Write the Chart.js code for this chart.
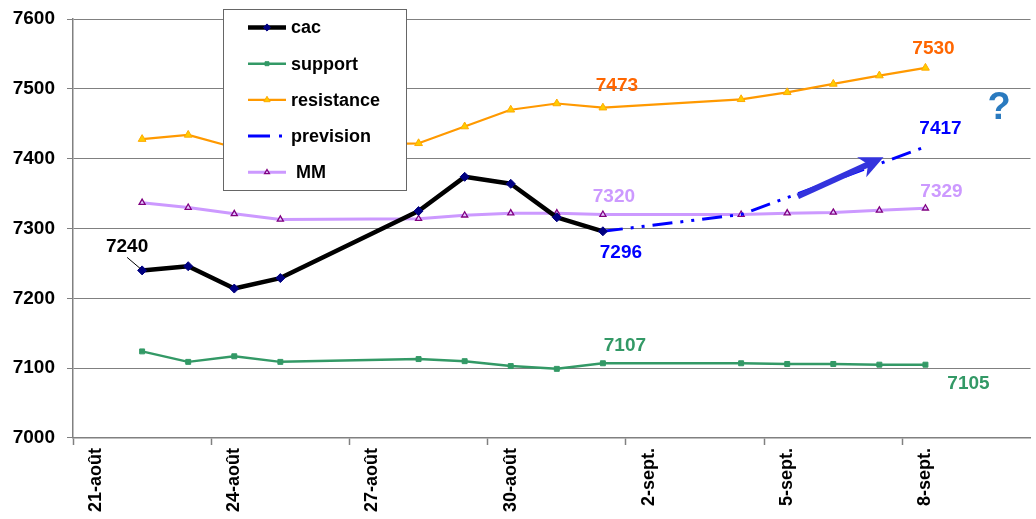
<!DOCTYPE html>
<html><head><meta charset="utf-8">
<script src="https://cdn.jsdelivr.net/npm/chart.js@4"></script>
<style>html,body{margin:0;padding:0;background:#fff;overflow:hidden}</style>
</head><body>
<canvas id="c" width="1036" height="519"></canvas>
<script>
// ---- data ----
const axisStart = '2023-08-21';
const axisEndDays = 20.78;
const dates = ['2023-08-22','2023-08-23','2023-08-24','2023-08-25','2023-08-28','2023-08-29','2023-08-30','2023-08-31','2023-09-01','2023-09-04','2023-09-05','2023-09-06','2023-09-07','2023-09-08'];
const tickDates = ['2023-08-21','2023-08-24','2023-08-27','2023-08-30','2023-09-02','2023-09-05','2023-09-08'];
const tickLabels = ['21-août','24-août','27-août','30-août','2-sept.','5-sept.','8-sept.'];
const cac        = [7240,7246,7214,7229,7325,7374,7364,7316,7296,null,null,null,null,null];
const support    = [7124,7109,7117,7109,7113,7110,7103,7099,7107,7107,7106,7106,7105,7105];
const resistance = [7428,7434,7416,7418,7422,7446,7470,7479,7473,7485,7495,7507,7519,7530];
const prevision  = [null,null,null,null,null,null,null,null,7296,7320,null,null,null,7417];
const mm         = [7337,7330,7321,7313,7314,7319,7322,7322,7320,7320,7322,7323,7326,7329];
const yMin = 7000, yMax = 7600, yStep = 100;
const arrowFrom = [15.73, 7346], arrowTo = [17.59, 7402];   // [days since 21-août, value]
const questionMark = {text:'?', at:[20.1, 7472]};

// ---- helpers ----
const DAY = 864e5;
function dayOf(d){ return Math.round((Date.parse(d+'T00:00:00Z') - Date.parse(axisStart+'T00:00:00Z'))/DAY); }
function pts(arr){ return dates.map((d,i)=>({x: dayOf(d)+0.5, y: arr[i]})); }

const FAM = '"Liberation Sans", Arial, Helvetica, sans-serif';
Chart.defaults.font.family = FAM;

const valueLabels = [
  {series:'cac',        date:'2023-08-22', dx:-15, dy:-24, color:'#000000', leader:true},
  {series:'cac',        date:'2023-09-01', dx: 18, dy: 21, color:'#0000ff'},
  {series:'resistance', date:'2023-09-01', dx: 14, dy:-22, color:'#ff6600'},
  {series:'resistance', date:'2023-09-08', dx:  8, dy:-19, color:'#ff6600'},
  {series:'prevision',  date:'2023-09-08', dx: 15, dy:-18, color:'#0000ff'},
  {series:' MM',        date:'2023-09-01', dx: 11, dy:-18, color:'#cc99ff'},
  {series:' MM',        date:'2023-09-08', dx: 16, dy:-16, color:'#cc99ff'},
  {series:'support',    date:'2023-09-01', dx: 22, dy:-18, color:'#339966'},
  {series:'support',    date:'2023-09-08', dx: 43, dy: 19, color:'#339966'}
];

const annot = {
  id:'annot',
  afterDatasetsDraw(chart){
    const {ctx} = chart; const x = chart.scales.x, y = chart.scales.y;
    ctx.save();
    // arrow
    const x0 = x.getPixelForValue(arrowFrom[0]), y0 = y.getPixelForValue(arrowFrom[1]);
    const x1 = x.getPixelForValue(arrowTo[0]),   y1 = y.getPixelForValue(arrowTo[1]);
    const ang = Math.atan2(y1-y0, x1-x0), head = 24, hw = 11, c = Math.cos(ang), s = Math.sin(ang);
    const bx = x1 - head*c, by = y1 - head*s;
    ctx.strokeStyle = '#3333dd'; ctx.fillStyle = '#3333dd'; ctx.lineWidth = 6; ctx.lineCap='butt';
    ctx.beginPath(); ctx.moveTo(x0,y0); ctx.lineTo(bx+8*c,by+8*s); ctx.stroke();
    ctx.beginPath();
    ctx.moveTo(x1,y1);
    ctx.lineTo(bx + hw*s, by - hw*c);
    ctx.lineTo(bx + 7*c, by + 7*s);
    ctx.lineTo(bx - hw*s, by + hw*c);
    ctx.closePath(); ctx.fill();

    // value labels
    ctx.font = 'bold 19px ' + FAM; ctx.textAlign='center'; ctx.textBaseline='middle';
    for (const L of valueLabels){
      const ds = chart.data.datasets.find(d=>d.label===L.series);
      const i = dates.indexOf(L.date);
      const p = ds.data[i];
      const px = x.getPixelForValue(p.x), py = y.getPixelForValue(p.y);
      ctx.fillStyle = L.color;
      ctx.fillText(String(p.y), px+L.dx, py+L.dy);
      if (L.leader){
        ctx.strokeStyle='#000'; ctx.lineWidth=1; ctx.setLineDash([]);
        ctx.beginPath(); ctx.moveTo(px-2,py-2); ctx.lineTo(px-15,py-13); ctx.stroke();
      }
    }
    // question mark
    ctx.font = 'bold 38px ' + FAM; ctx.fillStyle = '#2a7abf';
    ctx.fillText(questionMark.text, x.getPixelForValue(questionMark.at[0]), y.getPixelForValue(questionMark.at[1]));

    // legend box
    const L0 = {left:223, top:9, w:183, h:181, row:36.2, first:18};
    ctx.fillStyle='#fff'; ctx.fillRect(L0.left, L0.top, L0.w, L0.h);
    ctx.strokeStyle='#666'; ctx.lineWidth=1; ctx.strokeRect(L0.left+0.5, L0.top+0.5, L0.w, L0.h);
    chart.data.datasets.forEach((ds,k)=>{
      const ly = L0.top + L0.first + k*L0.row + 0.5;
      const sx0 = L0.left+25, sx1 = L0.left+63;
      ctx.strokeStyle = ds.borderColor; ctx.lineWidth = ds.borderWidth;
      ctx.setLineDash(ds.borderDash && ds.borderDash.length ? [22,9,3,200] : []);
      ctx.lineCap='butt';
      ctx.beginPath(); ctx.moveTo(sx0, ly); ctx.lineTo(sx1, ly); ctx.stroke();
      ctx.setLineDash([]);
      if (ds.pointRadius > 0){
        ctx.fillStyle = ds.pointBackgroundColor; ctx.strokeStyle = ds.pointBorderColor; ctx.lineWidth = ds.pointBorderWidth;
        Chart.helpers.drawPoint(ctx, {pointStyle: ds.pointStyle, radius: ds.pointRadius*0.8, rotation:0, borderWidth: ds.pointBorderWidth}, (sx0+sx1)/2, ly);
      }
      ctx.fillStyle='#000'; ctx.font='bold 18px '+FAM; ctx.textAlign='left'; ctx.textBaseline='middle';
      ctx.fillText(ds.label, L0.left+68, ly+1);
    });
    ctx.restore();
  }
};

const noPad = (s)=>{ s.paddingLeft = 0; s.paddingRight = 0; };

new Chart(document.getElementById('c'), {
  type:'line',
  data:{ datasets:[
    {label:'cac', data:pts(cac), borderColor:'#000000', borderWidth:4.5, pointStyle:'rectRot', pointRadius:4.5,
     pointBackgroundColor:'#000080', pointBorderColor:'#000080', pointBorderWidth:1, order:0, xAxisID:'x'},
    {label:'support', data:pts(support), borderColor:'#339966', borderWidth:2.5, pointStyle:'rect', pointRadius:3.5,
     pointBackgroundColor:'#339966', pointBorderColor:'#339966', pointBorderWidth:1, order:4, xAxisID:'x'},
    {label:'resistance', data:pts(resistance), borderColor:'#ff9900', borderWidth:2.2, pointStyle:'triangle', pointRadius:4.5,
     pointBackgroundColor:'#ffcc00', pointBorderColor:'#ffaa00', pointBorderWidth:1, order:3, xAxisID:'x'},
    {label:'prevision', data:pts(prevision), borderColor:'#0000ff', borderWidth:3, borderDash:[20,8,3,8,3,8], pointRadius:0,
     spanGaps:true, order:1, xAxisID:'x'},
    {label:' MM', data:pts(mm), borderColor:'#cc99ff', borderWidth:3, pointStyle:'triangle', pointRadius:3.5,
     pointBackgroundColor:'#e0c8ff', pointBorderColor:'#800080', pointBorderWidth:1.3, order:2, xAxisID:'x'}
  ]},
  options:{
    responsive:false, animation:false, events:[],
    layout:{padding:{left:0, top:19, right:0, bottom:4}},
    plugins:{legend:{display:false}, tooltip:{enabled:false}},
    elements:{line:{tension:0, borderCapStyle:'butt', borderJoinStyle:'round'}},
    scales:{
      xt:{type:'linear', position:'bottom', weight:0, min:0, max:axisEndDays, afterFit:noPad,
        afterBuildTicks:(s)=>{ s.ticks = tickDates.map(d=>({value: dayOf(d)})); },
        ticks:{display:false},
        grid:{drawOnChartArea:false, tickLength:7, tickColor:'#808080', tickWidth:1.5},
        border:{color:'#808080', width:1.5}},
      x:{type:'linear', position:'bottom', weight:1, min:0, max:axisEndDays, afterFit:noPad,
        afterBuildTicks:(s)=>{ s.ticks = tickDates.map(d=>({value: dayOf(d)+0.5})); },
        ticks:{autoSkip:false, minRotation:90, maxRotation:90, padding:3, color:'#000',
          font:{size:18, weight:'bold'}, callback:(v,i)=>tickLabels[i]},
        grid:{display:false, drawTicks:false, tickLength:0},
        border:{display:false}},
      y:{type:'linear', min:yMin, max:yMax,
        afterFit:(s)=>{ s.width = 73; s.paddingTop = 0; s.paddingBottom = 0; },
        ticks:{stepSize:yStep, padding:12, color:'#000', font:{size:19, weight:'bold'}, callback:(v)=>String(v)},
        grid:{color:'#808080', lineWidth:1, tickLength:6, tickColor:'#808080'},
        border:{color:'#808080', width:1.5}}
    }
  },
  plugins:[annot]
});
</script>
</body></html>
